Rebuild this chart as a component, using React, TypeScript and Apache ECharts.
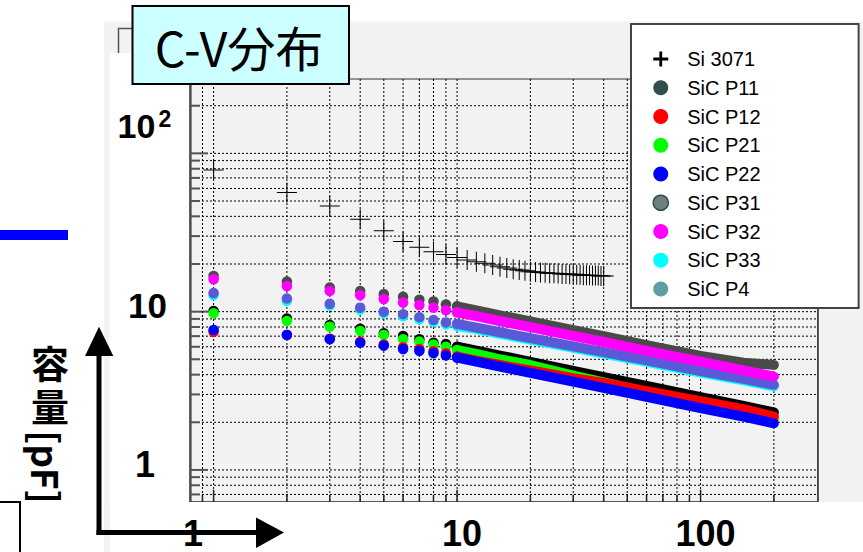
import React, { useEffect, useRef } from "react";
import * as echarts from "echarts";

// ---- data ----
const earlyVoltages = [1, 2, 3, 4, 5, 6, 7, 8, 9, 10];
const bandVoltages = [10, 12, 15, 20, 30, 40, 60, 100, 150, 200];
const siVoltages = [1, 2, 3, 4, 5, 6, 7, 8, 9, 10, 11, 12, 13, 14, 15, 16, 17, 18, 19, 20,
  21, 22, 23, 24, 25, 26, 27, 28, 29, 30, 31, 32, 33, 34, 35, 36, 37, 38, 39, 40];
const siValues = [78.6, 56.5, 46.5, 38.3, 32.5, 27.7, 25.5, 23.9, 23.0, 22.0, 21.2, 20.7, 20.2, 19.7, 19.2,
  18.9, 18.5, 18.3, 18.1, 17.9, 17.8, 17.7, 17.6, 17.5, 17.5, 17.4, 17.3, 17.3, 17.2, 17.2,
  17.1, 17.1, 17.0, 17.0, 17.0, 16.9, 16.9, 16.9, 16.8, 16.8];

const p11Early = [16.8, 15.5, 14.2, 13.5, 12.9, 12.4, 11.9, 11.6, 11.1, 10.8];
const p11Band = [10.8, 10.2, 9.48, 8.67, 7.64, 6.99, 6.15, 5.25, 4.76, 4.61];
const p12Early = [7.45, 7.12, 6.75, 6.45, 6.2, 5.95, 5.8, 5.62, 5.45, 5.2];
const p12Band = [5.2, 4.9, 4.6, 4.25, 3.8, 3.55, 3.15, 2.72, 2.42, 2.17];
const p21Early = [9.76, 8.73, 8.04, 7.55, 7.13, 6.7, 6.47, 6.2, 6.0, 5.72];
const p21Band = [5.72, 5.4, 5.0, 4.6, 3.95, 3.58, 3.1, 2.64, 2.32, 2.08];
const p22Early = [7.66, 7.13, 6.7, 6.36, 6.1, 5.8, 5.65, 5.47, 5.28, 5.12];
const p22Band = [5.12, 4.83, 4.5, 4.1, 3.61, 3.3, 2.9, 2.46, 2.17, 1.97];
const p31Early = [10.1, 9.06, 8.24, 7.8, 7.3, 7.02, 6.7, 6.36, 6.24, 6.0];
const p31Band = [6.0, 5.67, 5.28, 4.82, 4.23, 3.86, 3.4, 2.88, 2.54, 2.31];
const p32Early = [16.0, 14.5, 13.5, 12.7, 12.0, 11.4, 11.0, 10.6, 10.2, 9.9];
const p32Band = [9.9, 9.37, 8.73, 7.98, 7.03, 6.43, 5.66, 4.83, 4.25, 3.89];
const p33Early = [12.7, 11.7, 10.9, 10.3, 9.75, 9.35, 8.95, 8.6, 8.3, 8.12];
const p33Band = [8.12, 7.75, 7.25, 6.66, 5.91, 5.43, 4.81, 4.12, 3.68, 3.37];
const p4Early = [13.1, 12.1, 11.2, 10.6, 10.0, 9.63, 9.22, 8.85, 8.55, 8.37];
const p4Band = [8.37, 7.92, 7.41, 6.81, 6.04, 5.55, 4.92, 4.21, 3.76, 3.45];

const legendNames = ["Si 3071", "SiC P11", "SiC P12", "SiC P21", "SiC P22", "SiC P31", "SiC P32", "SiC P33", "SiC P4"];

const xGridValues = [0.9, 1, 2, 3, 4, 5, 6, 7, 8, 9, 10, 20, 30, 40, 50, 60, 70, 80, 90, 100, 200];
const yGridValues = [0.7, 0.8, 0.9, 1, 2, 3, 4, 5, 6, 7, 8, 9, 10, 20, 30, 40, 50, 60, 70, 80, 90, 100, 200];
const majorValues = [1, 10, 100];

const xTickLabels = ["1", "10", "100"];
const yTickLabels = ["10", "10", "1"];

const X_MIN = 0.8, X_MAX = 303, Y_MIN = 0.63, Y_MAX = 295;

const samples = [
  { name: "SiC P31", early: p31Early, band: p31Band, color: "#000000", z: 3 },
  { name: "SiC P11", early: p11Early, band: p11Band, color: "#4a4a4a", z: 4 },
  { name: "SiC P33", early: p33Early, band: p33Band, color: "#00ffff", z: 5 },
  { name: "SiC P4", early: p4Early, band: p4Band, color: "#5a5ad8", z: 6 },
  { name: "SiC P32", early: p32Early, band: p32Band, color: "#ff00ff", z: 7 },
  { name: "SiC P21", early: p21Early, band: p21Band, color: "#00ff00", z: 8 },
  { name: "SiC P12", early: p12Early, band: p12Band, color: "#ff0000", z: 9 },
  { name: "SiC P22", early: p22Early, band: p22Band, color: "#0000ff", z: 10 },
];

const legendColors: Record<string, string> = {
  "Si 3071": "#000000",
  "SiC P11": "#2f4f4f",
  "SiC P12": "#ff0000",
  "SiC P21": "#00ff00",
  "SiC P22": "#0000ff",
  "SiC P31": "#6f7f7f",
  "SiC P32": "#ff00ff",
  "SiC P33": "#00ffff",
  "SiC P4": "#5f9ea0",
};

const zip = (xs: number[], ys: number[]) => xs.map((x, i) => [x, ys[i]]);

const plusSymbol = "path://M0,9.5H20V10.5H0Z M9.5,0H10.5V20H9.5Z";
const plusLegend = "path://M0,6.5H16V9.5H0Z M6.5,0H9.5V16H6.5Z";

export default function App() {
  const ref = useRef<HTMLDivElement>(null);
  useEffect(() => {
    document.body.style.margin = "0";
    if (!ref.current) return;
    const chart = echarts.init(ref.current, undefined, { renderer: "svg" });

    const series: any[] = [];
    series.push({
      type: "custom",
      name: "ygrid",
      coordinateSystem: "cartesian2d",
      silent: true,
      z: 1,
      encode: { x: 0, y: 1 },
      data: yGridValues.map((v) => [X_MIN, v]),
      renderItem: (params: any, api: any) => {
        const v = api.value(1);
        const p = api.coord([X_MIN, v]);
        const cs = params.coordSys;
        const major = majorValues.indexOf(v) >= 0;
        return {
          type: "group",
          children: [
            { type: "line", shape: { x1: cs.x, y1: p[1], x2: cs.x + cs.width, y2: p[1] }, style: { stroke: "#000", lineWidth: 1, lineDash: [2, 2] } },
            { type: "line", shape: { x1: cs.x, y1: p[1], x2: cs.x + (major ? 18 : 10), y2: p[1] }, style: { stroke: "#555", lineWidth: 2 } },
          ],
        };
      },
    });
    series.push({
      type: "custom",
      name: "xgrid",
      coordinateSystem: "cartesian2d",
      silent: true,
      z: 1,
      encode: { x: 0, y: 1 },
      data: xGridValues.map((v) => [v, Y_MIN]),
      renderItem: (params: any, api: any) => {
        const v = api.value(0);
        const p = api.coord([v, Y_MIN]);
        const cs = params.coordSys;
        const major = majorValues.indexOf(v) >= 0;
        const bottom = cs.y + cs.height;
        return {
          type: "group",
          children: [
            { type: "line", shape: { x1: p[0], y1: cs.y, x2: p[0], y2: bottom }, style: { stroke: "#000", lineWidth: 1, lineDash: [2, 2] } },
            { type: "line", shape: { x1: p[0], y1: bottom, x2: p[0], y2: bottom - (major ? 12 : 7) }, style: { stroke: "#222", lineWidth: 1.5 } },
          ],
        };
      },
    });

    series.push({
      type: "scatter",
      name: "Si 3071",
      data: zip(siVoltages, siValues),
      symbol: plusSymbol,
      symbolSize: 20,
      itemStyle: { color: "#000", opacity: 1 },
      z: 12,
      silent: true,
    });
    samples.forEach((s) => {
      series.push({
        type: "scatter",
        name: s.name,
        data: zip(earlyVoltages, s.early),
        symbol: "circle",
        symbolSize: 10.5,
        itemStyle: { color: s.color, opacity: 1 },
        z: s.z,
        silent: true,
      });
    });
    samples.forEach((s) => {
      series.push({
        type: "line",
        name: s.name,
        data: zip(bandVoltages, s.band),
        showSymbol: false,
        symbol: "none",
        lineStyle: { color: s.color, width: 10, cap: "round", join: "round", opacity: 1 },
        itemStyle: { color: s.color },
        z: s.z,
        silent: true,
      });
    });

    const font = '"Liberation Sans", Arial, sans-serif';
    const cjk = '"Noto Sans CJK JP", sans-serif';

    const graphic: any[] = [
      { type: "rect", z: 0, silent: true, shape: { x: 104, y: 21.5, width: 759, height: 531 }, style: { fill: "#f2f2f2" } },
      { type: "rect", z: 40, silent: true, shape: { x: 118.5, y: 28.5, width: 180, height: 40 }, style: { fill: "#f2f2f2", stroke: "#555", lineWidth: 1.5 } },
      { type: "rect", z: 50, silent: true, shape: { x: 109.5, y: 53, width: 79.5, height: 449 }, style: { fill: "#fff" } },
      { type: "rect", z: 50, silent: true, shape: { x: 110, y: 502, width: 753, height: 50 }, style: { fill: "#fff" } },
      { type: "rect", z: 60, silent: true, shape: { x: 132.5, y: 6, width: 216.5, height: 78 }, style: { fill: "#ccffff", stroke: "#000", lineWidth: 2 } },
      { type: "text", z: 70, silent: true, x: 239, y: 46, style: { text: "C-V分布", fontSize: 48, fontFamily: cjk, fill: "#000", align: "center", verticalAlign: "middle" } },
      { type: "rect", z: 60, silent: true, shape: { x: 0, y: 230, width: 68, height: 10 }, style: { fill: "#0000ff" } },
      { type: "polyline", z: 60, silent: true, shape: { points: [[0, 502], [20, 502], [20, 552]] }, style: { stroke: "#000", lineWidth: 2, fill: null } },
      // arrows
      { type: "line", z: 65, silent: true, shape: { x1: 99, y1: 535, x2: 99, y2: 350 }, style: { stroke: "#000", lineWidth: 5 } },
      { type: "polygon", z: 65, silent: true, shape: { points: [[99, 326.7], [85, 356], [113.3, 356]] }, style: { fill: "#000" } },
      { type: "line", z: 65, silent: true, shape: { x1: 96.5, y1: 532.5, x2: 262, y2: 532.5 }, style: { stroke: "#000", lineWidth: 5 } },
      { type: "polygon", z: 65, silent: true, shape: { points: [[284, 532.5], [256, 517.5], [256, 548]] }, style: { fill: "#000" } },
      // y title (vertical writing)
      { type: "text", z: 70, silent: true, x: 50, y: 383, style: { text: "容\n量", fontSize: 38, lineHeight: 43, fontWeight: "bold", fontFamily: cjk, fill: "#000", align: "center", verticalAlign: "middle" } },
      { type: "text", z: 70, silent: true, x: 47, y: 467, rotation: -Math.PI / 2, style: { text: "[pF]", fontSize: 37, lineHeight: 37, fontWeight: "bold", fontFamily: cjk, fill: "#000", align: "center", verticalAlign: "middle" } },
      // y tick labels
      { type: "text", z: 70, silent: true, x: 136.5, y: 126, style: { text: yTickLabels[0], fontSize: 34, fontWeight: "bold", fontFamily: font, fill: "#000", align: "center", verticalAlign: "middle" } },
      { type: "text", z: 70, silent: true, x: 165, y: 118.5, style: { text: "2", fontSize: 23, fontWeight: "bold", fontFamily: font, fill: "#000", align: "center", verticalAlign: "middle" } },
      { type: "text", z: 70, silent: true, x: 147.5, y: 305.5, style: { text: yTickLabels[1], fontSize: 35, fontWeight: "bold", fontFamily: font, fill: "#000", align: "center", verticalAlign: "middle" } },
      { type: "text", z: 70, silent: true, x: 145, y: 464.5, style: { text: yTickLabels[2], fontSize: 36, fontWeight: "bold", fontFamily: font, fill: "#000", align: "center", verticalAlign: "middle" } },
      // x tick labels
      { type: "text", z: 70, silent: true, x: 193, y: 533, style: { text: xTickLabels[0], fontSize: 36, lineHeight: 34, fontWeight: "bold", fontFamily: font, fill: "#000", align: "center", verticalAlign: "middle" } },
      { type: "text", z: 70, silent: true, x: 462, y: 533, style: { text: xTickLabels[1], fontSize: 36, lineHeight: 34, fontWeight: "bold", fontFamily: font, fill: "#000", align: "center", verticalAlign: "middle" } },
      { type: "text", z: 70, silent: true, x: 705.5, y: 533, style: { text: xTickLabels[2], fontSize: 36, lineHeight: 34, fontWeight: "bold", fontFamily: font, fill: "#000", align: "center", verticalAlign: "middle" } },
    ];

    chart.setOption({
      animation: false,
      backgroundColor: "#ffffff",
      grid: { left: 190, right: 45.2, top: 79, bottom: 50.3, show: true, borderColor: "#333", borderWidth: 1, z: 1 },
      xAxis: {
        type: "log",
        min: X_MIN,
        max: X_MAX,
        axisLine: { show: false },
        axisTick: { show: false },
        axisLabel: { show: false },
        splitLine: { show: false },
      },
      yAxis: [
        {
          type: "log",
          min: Y_MIN,
          max: Y_MAX,
          axisLine: { show: true, lineStyle: { color: "#666", width: 2.5 } },
          axisTick: { show: false },
          axisLabel: { show: false },
          splitLine: { show: false },
        },
        {
          type: "log",
          position: "right",
          min: Y_MIN,
          max: Y_MAX,
          axisLine: { show: true, lineStyle: { color: "#707070", width: 2 } },
          axisTick: { show: false },
          axisLabel: { show: false },
          splitLine: { show: false },
        },
      ],
      legend: {
        orient: "vertical",
        left: 631,
        top: 24,
        z: 20,
        backgroundColor: "#ffffff",
        borderColor: "#444",
        borderWidth: 2,
        borderRadius: 0,
        padding: [25, 98, 9, 21.5],
        itemWidth: 15,
        itemHeight: 15,
        itemGap: 8.75,
        selectedMode: false,
        textStyle: { fontSize: 20, lineHeight: 20, fontFamily: font, color: "#000", padding: [0, 0, 0, 14] },
        data: legendNames.map((n) => ({
          name: n,
          icon: n === "Si 3071" ? plusLegend : "circle",
          itemStyle: n === "SiC P31"
            ? { color: legendColors[n], borderColor: "#2f4f4f", borderWidth: 1.5, opacity: 1 }
            : { color: legendColors[n], borderWidth: 0, opacity: 1 },
        })),
      },
      graphic,
      series,
    });
    return () => chart.dispose();
  }, []);
  return <div ref={ref} style={{ width: 863, height: 552 }} />;
}
